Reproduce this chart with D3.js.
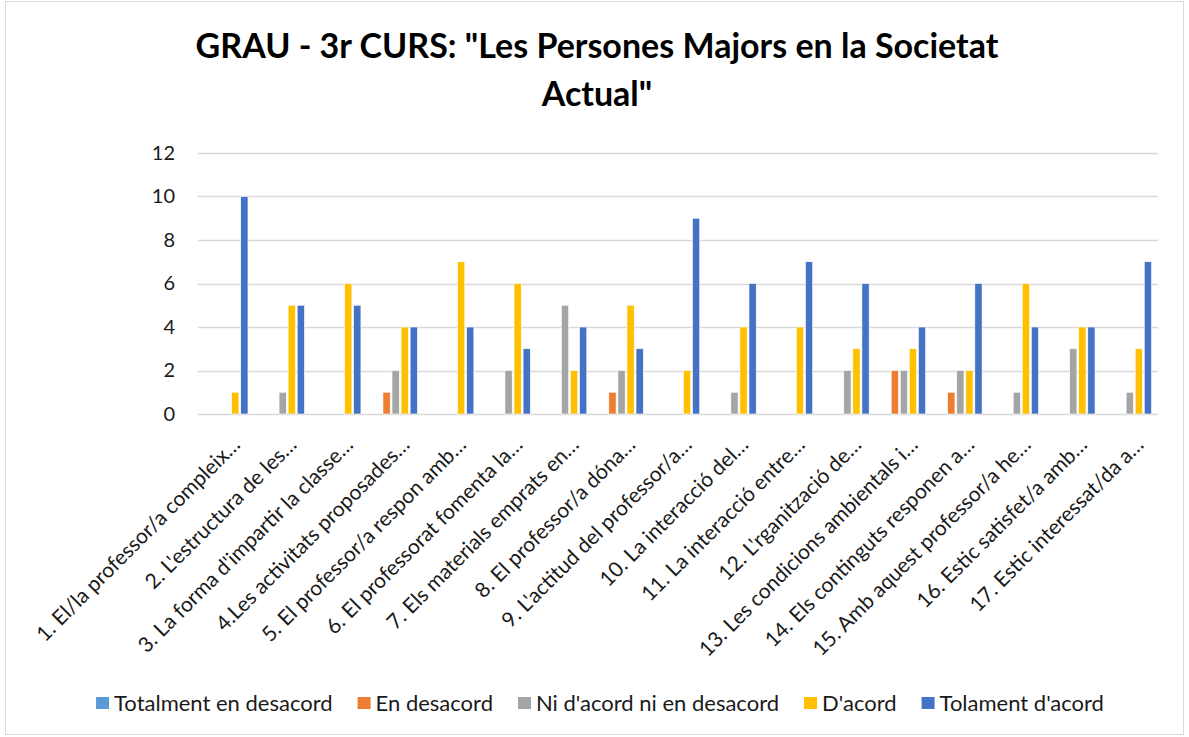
<!DOCTYPE html>
<html>
<head>
<meta charset="utf-8">
<script src="https://cdn.jsdelivr.net/npm/d3@7"></script>
<style>
  body { margin: 0; background: #fff; }
  text { font-family: Lato, "Open Sans", sans-serif; }
</style>
</head>
<body>
<div id="chart"></div>
<script>
// data
var categories = [
    "1. El/la professor/a compleix…",
    "2. L'estructura de les…",
    "3. La forma d'impartir la classe…",
    "4.Les activitats proposades…",
    "5. El professor/a respon amb…",
    "6. El professorat fomenta la…",
    "7. Els materials emprats en…",
    "8. El professor/a dóna…",
    "9. L'actitud del professor/a…",
    "10. La interacció del…",
    "11. La interacció entre…",
    "12. L'rganització de…",
    "13. Les condicions ambientals i…",
    "14. Els continguts responen a…",
    "15. Amb aquest professor/a he…",
    "16. Estic satisfet/a amb…",
    "17. Estic interessat/da a…"
];
var seriesNames = ["Totalment en desacord", "En desacord", "Ni d'acord ni en desacord", "D'acord", "Tolament d'acord"];
var totalmentDesacord = [0, 0, 0, 0, 0, 0, 0, 0, 0, 0, 0, 0, 0, 0, 0, 0, 0];
var enDesacord        = [0, 0, 0, 1, 0, 0, 0, 1, 0, 0, 0, 0, 2, 1, 0, 0, 0];
var niAcord           = [0, 1, 0, 2, 0, 2, 5, 2, 0, 1, 0, 2, 2, 2, 1, 3, 1];
var dAcord            = [1, 5, 6, 4, 7, 6, 2, 5, 2, 4, 4, 3, 3, 2, 6, 4, 3];
var tolamentAcord     = [10, 5, 5, 4, 4, 3, 4, 3, 9, 6, 7, 6, 4, 6, 4, 4, 7];
var yTicks = [0, 2, 4, 6, 8, 10, 12];
var colors = ["#5B9BD5", "#ED7D31", "#A5A5A5", "#FFC000", "#4472C4"];

var allSeries = [totalmentDesacord, enDesacord, niAcord, dAcord, tolamentAcord];
var W = 1189, H = 737;
var margin = { top: 153, right: 31, bottom: 323, left: 198 };
var innerW = W - margin.left - margin.right;
var innerH = H - margin.top - margin.bottom;

var svg = d3.select("#chart").append("svg")
    .attr("width", W)
    .attr("height", H);

// outer border
svg.append("rect")
    .attr("x", 5.5).attr("y", 1.5)
    .attr("width", W - 11).attr("height", H - 4)
    .attr("fill", "#fff")
    .attr("stroke", "#d9d9d9");

// title
var title = svg.append("text")
    .attr("text-anchor", "middle")
    .style("font-size", "34px")
    .style("font-weight", "bold")
    .attr("fill", "#000");
title.append("tspan").attr("x", 597).attr("y", 58).text("GRAU - 3r CURS: \"Les Persones Majors en la Societat");
title.append("tspan").attr("x", 597).attr("y", 106).text("Actual\"");

var g = svg.append("g")
    .attr("transform", "translate(" + margin.left + "," + margin.top + ")");

var x0 = d3.scaleBand()
    .domain(categories)
    .range([0, innerW])
    .paddingInner(0.23)
    .paddingOuter(0.115);

var x1 = d3.scaleBand()
    .domain(d3.range(seriesNames.length))
    .range([0, x0.bandwidth()])
    .paddingInner(0.2);

var y = d3.scaleLinear()
    .domain([0, 12])
    .range([innerH, 0]);

// gridlines
g.append("g")
    .selectAll("line")
    .data(yTicks)
    .enter()
    .append("line")
    .attr("x1", 0)
    .attr("x2", innerW)
    .attr("y1", function (d) { return Math.round(y(d)) + 0.5; })
    .attr("y2", function (d) { return Math.round(y(d)) + 0.5; })
    .attr("stroke", "#d9d9d9")
    .attr("stroke-width", 1.3);

// y axis labels
var yAxis = g.append("g")
    .call(d3.axisLeft(y).tickValues(yTicks).tickSize(0).tickPadding(23));
yAxis.select(".domain").remove();
yAxis.selectAll("text")
    .style("font-size", "20px")
    .style("font-family", "Lato, 'Open Sans', sans-serif")
    .attr("fill", "#1a1a1a");

// bars
var rows = categories.map(function (c, i) {
    return { cat: c, vals: allSeries.map(function (s) { return s[i]; }) };
});

var groups = g.selectAll(".grp")
    .data(rows)
    .enter()
    .append("g")
    .attr("class", "grp")
    .attr("transform", function (d) { return "translate(" + x0(d.cat) + ",0)"; });

groups.selectAll("rect")
    .data(function (d) {
        return d.vals.map(function (v, k) { return { k: k, v: v }; })
            .filter(function (e) { return e.v > 0; });
    })
    .enter()
    .append("rect")
    .attr("x", function (d) { return x1(d.k); })
    .attr("y", function (d) { return y(d.v); })
    .attr("width", x1.bandwidth())
    .attr("height", function (d) { return y(0) - y(d.v); })
    .attr("fill", function (d) { return colors[d.k]; })
    .attr("stroke", "#fff")
    .attr("stroke-width", 0.6);

// x axis labels (rotated)
var xAxis = g.append("g")
    .attr("transform", "translate(0," + innerH + ")")
    .call(d3.axisBottom(x0).tickSize(0).tickPadding(0));
xAxis.select(".domain").remove();
xAxis.selectAll("text")
    .style("font-size", "21px")
    .style("font-family", "Lato, 'Open Sans', sans-serif")
    .attr("fill", "#1a1a1a")
    .attr("text-anchor", "end")
    .attr("dy", "0.35em")
    .attr("transform", "translate(10,27) rotate(-45)");

// legend
var legend = svg.append("g").attr("transform", "translate(0,703)");
var items = legend.selectAll("g")
    .data(seriesNames)
    .enter()
    .append("g");
items.append("rect")
    .attr("x", 0).attr("y", -6)
    .attr("width", 13).attr("height", 12)
    .attr("fill", function (d, i) { return colors[i]; });
items.append("text")
    .attr("x", 18)
    .attr("y", 0)
    .attr("dy", "0.35em")
    .style("font-size", "22px")
    .attr("fill", "#1a1a1a")
    .text(function (d) { return d; });

var pos = 0, offsets = [];
items.each(function () {
    offsets.push(pos);
    pos += this.getBBox().width + 25;
});
var total = pos - 25;
var startX = 600 - total / 2;
items.attr("transform", function (d, i) { return "translate(" + (startX + offsets[i]) + ",0)"; });
</script>
</body>
</html>
